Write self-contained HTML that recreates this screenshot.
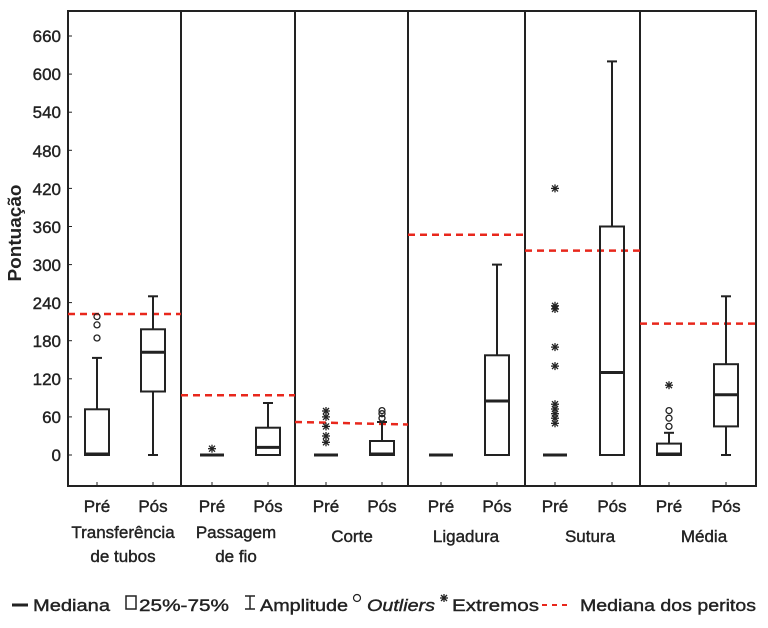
<!DOCTYPE html>
<html><head><meta charset="utf-8"><style>
body{margin:0;background:#fff;}
svg{display:block;font-family:"Liberation Sans",sans-serif;}
</style></head><body>
<svg width="768" height="628" viewBox="0 0 768 628" xmlns="http://www.w3.org/2000/svg">
<defs>
<g id="ast" stroke="#222" stroke-width="1.3"><line x1="-4" y1="0" x2="4" y2="0"/><line x1="-3" y1="-3" x2="3" y2="3"/><line x1="-3" y1="3" x2="3" y2="-3"/><line x1="0" y1="-4" x2="0" y2="4"/></g>
<circle id="oc" r="3" fill="none" stroke="#222" stroke-width="1.3"/>
</defs>
<rect x="68" y="11" width="688" height="475" fill="none" stroke="#222" stroke-width="2"/>
<g stroke="#222" stroke-width="2">
<line x1="181" y1="11" x2="181" y2="486"/><line x1="295" y1="11" x2="295" y2="486"/>
<line x1="408" y1="11" x2="408" y2="486"/><line x1="525" y1="11" x2="525" y2="486"/>
<line x1="640" y1="11" x2="640" y2="486"/>
</g>
<g stroke="#222" stroke-width="1">
<line x1="68" x2="72" y1="455" y2="455"/><line x1="68" x2="72" y1="416.9" y2="416.9"/><line x1="68" x2="72" y1="378.8" y2="378.8"/><line x1="68" x2="72" y1="340.7" y2="340.7"/><line x1="68" x2="72" y1="302.6" y2="302.6"/><line x1="68" x2="72" y1="264.6" y2="264.6"/><line x1="68" x2="72" y1="226.5" y2="226.5"/><line x1="68" x2="72" y1="188.4" y2="188.4"/><line x1="68" x2="72" y1="150.3" y2="150.3"/><line x1="68" x2="72" y1="112.2" y2="112.2"/><line x1="68" x2="72" y1="74.1" y2="74.1"/><line x1="68" x2="72" y1="36" y2="36"/>
</g>
<g font-size="17" fill="#222" stroke="#222" stroke-width="0.4" text-anchor="end">
<text x="61" y="461">0</text><text x="61" y="423">60</text><text x="61" y="385">120</text><text x="61" y="347">180</text><text x="61" y="309">240</text><text x="61" y="271">300</text><text x="61" y="233">360</text><text x="61" y="195">420</text><text x="61" y="157">480</text><text x="61" y="118">540</text><text x="61" y="80">600</text><text x="61" y="42">660</text>
</g>
<text transform="translate(21,233) rotate(-90)" font-size="18" font-weight="bold" text-anchor="middle" fill="#222" textLength="97" lengthAdjust="spacingAndGlyphs">Pontuação</text>
<g stroke="#e8271c" stroke-width="2.5" stroke-dasharray="7,5">
<line x1="68" x2="181" y1="314" y2="314"/>
<line x1="181" x2="295" y1="395.3" y2="395.3"/>
<line x1="295" x2="408" y1="422" y2="424.5"/>
<line x1="408" x2="525" y1="234.7" y2="234.7"/>
<line x1="525" x2="640" y1="250.6" y2="250.6"/>
<line x1="640" x2="756" y1="323.6" y2="323.6"/>
</g>
<g stroke="#222" stroke-width="2" fill="none">
<line x1="97" x2="97" y1="409.3" y2="357.9"/><line x1="92" x2="102" y1="357.9" y2="357.9"/>
<rect x="85" y="409.3" width="24" height="45.7"/><line x1="85" x2="109" y1="454" y2="454" stroke-width="3"/>
<line x1="153" x2="153" y1="329.3" y2="296.3"/><line x1="148" x2="158" y1="296.3" y2="296.3"/>
<line x1="153" x2="153" y1="391.5" y2="455"/><line x1="148" x2="158" y1="455" y2="455"/>
<rect x="141" y="329.3" width="24" height="62.2"/><line x1="141" x2="165" y1="352.2" y2="352.2" stroke-width="3"/>
<line x1="200" x2="224" y1="455" y2="455" stroke-width="3"/>
<line x1="268" x2="268" y1="427.7" y2="403"/><line x1="263" x2="273" y1="403" y2="403"/>
<rect x="256" y="427.7" width="24" height="27.3"/><line x1="256" x2="280" y1="447.4" y2="447.4" stroke-width="3"/>
<line x1="314" x2="338" y1="455" y2="455" stroke-width="3"/>
<line x1="382" x2="382" y1="441" y2="422"/><line x1="377" x2="387" y1="422" y2="422"/>
<rect x="370" y="441" width="24" height="14"/><line x1="370" x2="394" y1="454" y2="454" stroke-width="3"/>
<line x1="429" x2="453" y1="455" y2="455" stroke-width="3"/>
<line x1="497" x2="497" y1="355.3" y2="264.6"/><line x1="492" x2="502" y1="264.6" y2="264.6"/>
<rect x="485" y="355.3" width="24" height="99.7"/><line x1="485" x2="509" y1="401" y2="401" stroke-width="3"/>
<line x1="543" x2="567" y1="455" y2="455" stroke-width="3"/>
<line x1="612" x2="612" y1="226.5" y2="61.4"/><line x1="607" x2="617" y1="61.4" y2="61.4"/>
<rect x="600" y="226.5" width="24" height="228.5"/><line x1="600" x2="624" y1="372.5" y2="372.5" stroke-width="3"/>
<line x1="669" x2="669" y1="443.6" y2="432.8"/><line x1="664" x2="674" y1="432.8" y2="432.8"/>
<rect x="657" y="443.6" width="24" height="11.4"/><line x1="657" x2="681" y1="454" y2="454" stroke-width="3"/>
<line x1="726" x2="726" y1="364.2" y2="296.3"/><line x1="721" x2="731" y1="296.3" y2="296.3"/>
<line x1="726" x2="726" y1="426.4" y2="455"/><line x1="721" x2="731" y1="455" y2="455"/>
<rect x="714" y="364.2" width="24" height="62.2"/><line x1="714" x2="738" y1="394.7" y2="394.7" stroke-width="3"/>
</g>
<use href="#oc" x="97" y="338"/><use href="#oc" x="97" y="324.9"/><use href="#oc" x="97" y="316.6"/>
<use href="#oc" x="382" y="418.2"/><use href="#oc" x="382" y="413.7"/><use href="#oc" x="382" y="410.6"/>
<use href="#oc" x="669" y="426.4"/><use href="#oc" x="669" y="418.2"/><use href="#oc" x="669" y="410.6"/>
<use href="#ast" x="212" y="448.7"/>
<use href="#ast" x="326" y="442.3"/><use href="#ast" x="326" y="436"/><use href="#ast" x="326" y="426.4"/><use href="#ast" x="326" y="416.9"/><use href="#ast" x="326" y="411"/>
<use href="#ast" x="555" y="188.4"/><use href="#ast" x="555" y="305.8"/><use href="#ast" x="555" y="309"/><use href="#ast" x="555" y="347.1"/><use href="#ast" x="555" y="366.1"/>
<use href="#ast" x="555" y="404.2"/><use href="#ast" x="555" y="409"/><use href="#ast" x="555" y="413.7"/><use href="#ast" x="555" y="418.2"/><use href="#ast" x="555" y="423.3"/>
<use href="#ast" x="669" y="385.2"/>
<g stroke="#222" stroke-width="1">
<line x1="97" x2="97" y1="486" y2="482"/><line x1="153" x2="153" y1="486" y2="482"/><line x1="212" x2="212" y1="486" y2="482"/><line x1="268" x2="268" y1="486" y2="482"/><line x1="326" x2="326" y1="486" y2="482"/><line x1="382" x2="382" y1="486" y2="482"/><line x1="441" x2="441" y1="486" y2="482"/><line x1="497" x2="497" y1="486" y2="482"/><line x1="555" x2="555" y1="486" y2="482"/><line x1="612" x2="612" y1="486" y2="482"/><line x1="669" x2="669" y1="486" y2="482"/><line x1="726" x2="726" y1="486" y2="482"/>
</g>
<g font-size="17" fill="#222" stroke="#222" stroke-width="0.4" text-anchor="middle">
<text x="97" y="512">Pré</text><text x="153" y="512">Pós</text><text x="212" y="512">Pré</text><text x="268" y="512">Pós</text><text x="326" y="512">Pré</text><text x="382" y="512">Pós</text><text x="441" y="512">Pré</text><text x="497" y="512">Pós</text><text x="555" y="512">Pré</text><text x="612" y="512">Pós</text><text x="669" y="512">Pré</text><text x="726" y="512">Pós</text>
<text x="123" y="538">Transferência</text><text x="123" y="562">de tubos</text>
<text x="236" y="538">Passagem</text><text x="236" y="562">de fio</text>
<text x="352" y="542">Corte</text><text x="466" y="542">Ligadura</text><text x="590" y="542">Sutura</text><text x="704" y="542">Média</text>
</g>
<g font-size="17" fill="#222">
<line x1="12" x2="28" y1="605" y2="605" stroke="#222" stroke-width="3"/>
<g stroke="#222" stroke-width="0.4">
<text x="33" y="611" textLength="77" lengthAdjust="spacingAndGlyphs">Mediana</text>
<text x="139" y="611" textLength="90" lengthAdjust="spacingAndGlyphs">25%-75%</text>
<text x="260" y="611" textLength="88" lengthAdjust="spacingAndGlyphs">Amplitude</text>
<text x="367" y="611" font-style="italic" textLength="68" lengthAdjust="spacingAndGlyphs">Outliers</text>
<text x="452" y="611" textLength="87" lengthAdjust="spacingAndGlyphs">Extremos</text>
<text x="580" y="611" textLength="176" lengthAdjust="spacingAndGlyphs">Mediana dos peritos</text>
</g>
<rect x="126" y="596" width="10" height="13" fill="none" stroke="#222" stroke-width="1.5"/>
<g stroke="#222" stroke-width="1.5"><line x1="245" x2="255" y1="596" y2="596"/><line x1="250" x2="250" y1="596" y2="609"/><line x1="245" x2="255" y1="609" y2="609"/></g>
<circle cx="357" cy="598" r="3.5" fill="none" stroke="#222" stroke-width="1.2"/>
<use href="#ast" x="444" y="598"/>
<line x1="542" x2="572" y1="605" y2="605" stroke="#e8271c" stroke-width="2" stroke-dasharray="5,5"/>
</g>
</svg>
</body></html>
